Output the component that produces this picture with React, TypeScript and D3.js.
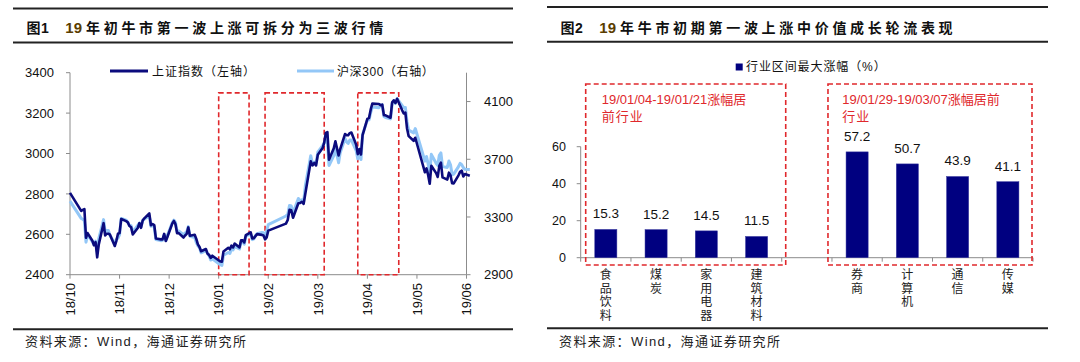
import React from 'react';
import * as d3 from 'd3';

// ---- chart 1 data: 上证指数 / 沪深300 daily closes ----
const tradeDates = [
  '2018-10-01', '2018-10-08', '2018-10-09', '2018-10-10', '2018-10-11', '2018-10-12', '2018-10-15', '2018-10-16', '2018-10-17', '2018-10-18', '2018-10-19', '2018-10-22', '2018-10-23', '2018-10-24', '2018-10-25', '2018-10-26', '2018-10-29', '2018-10-30', '2018-10-31',
  '2018-11-01', '2018-11-02', '2018-11-05', '2018-11-06', '2018-11-07', '2018-11-08', '2018-11-09', '2018-11-12', '2018-11-13', '2018-11-14', '2018-11-15', '2018-11-16', '2018-11-19', '2018-11-20', '2018-11-21', '2018-11-22', '2018-11-23', '2018-11-26', '2018-11-27', '2018-11-28', '2018-11-29', '2018-11-30',
  '2018-12-03', '2018-12-04', '2018-12-05', '2018-12-06', '2018-12-07', '2018-12-10', '2018-12-11', '2018-12-12', '2018-12-13', '2018-12-14', '2018-12-17', '2018-12-18', '2018-12-19', '2018-12-20', '2018-12-21', '2018-12-24', '2018-12-25', '2018-12-26', '2018-12-27', '2018-12-28',
  '2019-01-02', '2019-01-03', '2019-01-04', '2019-01-07', '2019-01-08', '2019-01-09', '2019-01-10', '2019-01-11', '2019-01-14', '2019-01-15', '2019-01-16', '2019-01-17', '2019-01-18', '2019-01-21', '2019-01-22', '2019-01-23', '2019-01-24', '2019-01-25', '2019-01-28', '2019-01-29', '2019-01-30', '2019-01-31',
  '2019-02-01', '2019-02-11', '2019-02-12', '2019-02-13', '2019-02-14', '2019-02-15', '2019-02-18', '2019-02-19', '2019-02-20', '2019-02-21', '2019-02-22', '2019-02-25', '2019-02-26', '2019-02-27', '2019-02-28',
  '2019-03-01', '2019-03-04', '2019-03-05', '2019-03-06', '2019-03-07', '2019-03-08', '2019-03-11', '2019-03-12', '2019-03-13', '2019-03-14', '2019-03-15', '2019-03-18', '2019-03-19', '2019-03-20', '2019-03-21', '2019-03-22', '2019-03-25', '2019-03-26', '2019-03-27', '2019-03-28', '2019-03-29',
  '2019-04-01', '2019-04-02', '2019-04-03', '2019-04-04', '2019-04-08', '2019-04-09', '2019-04-10', '2019-04-11', '2019-04-12', '2019-04-15', '2019-04-16', '2019-04-17', '2019-04-18', '2019-04-19', '2019-04-22', '2019-04-23', '2019-04-24', '2019-04-25', '2019-04-26', '2019-04-29', '2019-04-30',
  '2019-05-06', '2019-05-07', '2019-05-08', '2019-05-09', '2019-05-10', '2019-05-13', '2019-05-14', '2019-05-15', '2019-05-16', '2019-05-17', '2019-05-20', '2019-05-21', '2019-05-22', '2019-05-23', '2019-05-24', '2019-05-27', '2019-05-28', '2019-05-29', '2019-05-30', '2019-05-31',
  '2019-06-03',
];

const shIndex = [
  2805, 2716, 2721, 2725, 2583, 2606, 2568, 2546, 2561, 2486, 2550, 2655, 2594, 2603, 2603, 2598, 2542, 2568, 2603,
  2606, 2676, 2665, 2659, 2641, 2635, 2599, 2631, 2655, 2632, 2668, 2679, 2703, 2645, 2651, 2646, 2579, 2575, 2575, 2602, 2567, 2588,
  2654, 2666, 2649, 2605, 2606, 2584, 2594, 2602, 2634, 2593, 2598, 2577, 2550, 2537, 2516, 2527, 2504, 2498, 2483, 2494,
  2465, 2464, 2515, 2533, 2526, 2544, 2535, 2554, 2535, 2570, 2570, 2560, 2596, 2610, 2579, 2581, 2591, 2601, 2597, 2594, 2575, 2585,
  2618, 2653, 2671, 2721, 2719, 2682, 2754, 2755, 2761, 2751, 2804, 2961, 2941, 2953, 2941,
  2994, 3027, 3054, 3102, 3106, 2969, 3026, 3060, 3026, 2990, 3022, 3096, 3091, 3090, 3101, 3104, 3043, 2997, 3022, 2995, 3091,
  3171, 3176, 3217, 3247, 3245, 3239, 3242, 3190, 3189, 3177, 3253, 3263, 3250, 3271, 3215, 3198, 3202, 3124, 3086, 3063, 3078,
  2907, 2926, 2894, 2850, 2939, 2903, 2884, 2939, 2955, 2882, 2871, 2905, 2892, 2853, 2852, 2892, 2909, 2915, 2886, 2898,
  2890,
];

const hs300 = [
  3410, 3290, 3284, 3274, 3125, 3177, 3129, 3108, 3133, 3060, 3150, 3282, 3196, 3207, 3206, 3173, 3114, 3143, 3153,
  3178, 3290, 3278, 3264, 3240, 3239, 3195, 3242, 3258, 3232, 3276, 3286, 3306, 3236, 3243, 3230, 3144, 3136, 3138, 3175, 3136, 3173,
  3261, 3278, 3261, 3196, 3203, 3178, 3189, 3196, 3233, 3166, 3158, 3122, 3101, 3087, 3051, 3067, 3047, 3031, 3002, 3011,
  2969, 2964, 3035, 3054, 3047, 3078, 3072, 3094, 3078, 3127, 3128, 3111, 3168, 3183, 3143, 3148, 3172, 3184, 3192, 3191, 3168, 3201,
  3247, 3307, 3317, 3380, 3376, 3328, 3428, 3412, 3419, 3407, 3520, 3725, 3665, 3680, 3669,
  3749, 3795, 3814, 3834, 3826, 3657, 3725, 3769, 3728, 3676, 3745, 3844, 3820, 3810, 3833, 3833, 3759, 3703, 3738, 3698, 3872,
  3973, 3973, 4023, 4062, 4057, 4076, 4077, 3996, 3989, 3980, 4085, 4105, 4086, 4120, 4073, 4058, 4059, 3960, 3902, 3883, 3913,
  3687, 3719, 3667, 3600, 3734, 3672, 3657, 3728, 3744, 3649, 3643, 3688, 3662, 3592, 3597, 3649, 3672, 3663, 3642, 3630,
  3629,
];

const monthTicks = ['18/10', '18/11', '18/12', '19/01', '19/02', '19/03', '19/04', '19/05', '19/06'];
const leftTicks = [2400, 2600, 2800, 3000, 3200, 3400];
const rightTicks = [2900, 3300, 3700, 4100];
// three sub-waves highlighted with dashed boxes
const waveFrom = ['2019-01-01', '2019-01-30', '2019-03-26'];
const waveTo = ['2019-01-20', '2019-03-05', '2019-04-20'];

// ---- chart 2 data: 行业区间最大涨幅 ----
const industries = ['食品饮料', '煤炭', '家用电器', '建筑材料', '', '券商', '计算机', '通信', '传媒'];
const maxGain = [15.3, 15.2, 14.5, 11.5, null, 57.2, 50.7, 43.9, 41.1];
const barTicks = [0, 20, 40, 60];

const FONT = "'Liberation Sans', Arial, 'Noto Sans CJK SC', sans-serif";
const DARK = '#0b0b7d';
const LIGHT = '#93c7f7';
const RED = '#e0282c';
const AXIS = '#8c8c8c';

// month index since 2018-10, with fraction of month by day
function monthPos(s: string) {
  const [y, m, d] = s.split('-').map(Number);
  const dim = new Date(y, m, 0).getDate();
  return (y - 2018) * 12 + (m - 10) + (d - 1) / dim;
}

function LineChart() {
  const x = d3.scaleLinear().domain([0, 8]).range([70, 466.5]);
  const yL = d3.scaleLinear().domain([2400, 3400]).range([274.7, 72.7]);
  const yR = d3.scaleLinear().domain([2900, 4300]).range([274.7, 72.7]);

  const lineL = d3.line<number>().x((_, i) => x(monthPos(tradeDates[i]))).y(d => yL(d));
  const lineR = d3.line<number>().x((_, i) => x(monthPos(tradeDates[i]))).y(d => yR(d));

  return (
    <g>
      {/* axes */}
      <line x1={x(0)} x2={x(0)} y1={yL(3400)} y2={yL(2400)} stroke={AXIS} />
      <line x1={x(8)} x2={x(8)} y1={yL(3400)} y2={yL(2400)} stroke={AXIS} />
      <line x1={x(0)} x2={x(8)} y1={yL(2400)} y2={yL(2400)} stroke={AXIS} />
      {leftTicks.map(t => (
        <g key={'l' + t}>
          <line x1={x(0) - 4} x2={x(0)} y1={yL(t)} y2={yL(t)} stroke={AXIS} />
          <text x={54} y={yL(t)} dy="0.36em" textAnchor="end" fontSize={13} fill="#111">{t}</text>
        </g>
      ))}
      {rightTicks.map(t => (
        <g key={'r' + t}>
          <line x1={x(8)} x2={x(8) + 4} y1={yR(t)} y2={yR(t)} stroke={AXIS} />
          <text x={484} y={yR(t)} dy="0.36em" fontSize={13} fill="#111">{t}</text>
        </g>
      ))}
      {monthTicks.map((m, i) => (
        <g key={m}>
          <line x1={x(i)} x2={x(i)} y1={yL(2400)} y2={yL(2400) + 4} stroke={AXIS} />
          <text transform={`translate(${x(i)},283) rotate(-90)`} dy="0.36em" textAnchor="end" fontSize={13} fill="#111">{m}</text>
        </g>
      ))}

      {/* dashed wave boxes */}
      {waveFrom.map((f, i) => (
        <rect key={f} x={x(monthPos(f))} y={yL(3300)} width={x(monthPos(waveTo[i])) - x(monthPos(f))} height={yL(2400) - yL(3300)}
          fill="none" stroke={RED} strokeWidth={1.6} strokeDasharray="5,3" />
      ))}

      {/* series */}
      <path d={lineR(hs300) || ''} fill="none" stroke={LIGHT} strokeWidth={3} strokeLinejoin="round" />
      <path d={lineL(shIndex) || ''} fill="none" stroke={DARK} strokeWidth={2.6} strokeLinejoin="round" />

      {/* legend */}
      <line x1={110} x2={148} y1={71} y2={71} stroke={DARK} strokeWidth={3} />
      <text x={152} y={75.5} fontSize={12} letterSpacing={1} fill="#111">上证指数（左轴）</text>
      <line x1={297} x2={334} y1={71} y2={71} stroke={LIGHT} strokeWidth={3} />
      <text x={337} y={75.5} fontSize={12} letterSpacing={0.6} fill="#111">沪深300（右轴）</text>
    </g>
  );
}

function BarChart() {
  const x = d3.scaleBand<number>().domain(d3.range(industries.length)).range([580.7, 1033]).paddingInner(0.56).paddingOuter(0.28);
  const y = d3.scaleLinear().domain([0, 60]).range([257.7, 146.7]);
  const step = x.step();
  const x0 = x.range()[0];

  return (
    <g>
      <line x1={x0} x2={x0} y1={y(60)} y2={y(0)} stroke={AXIS} />
      <line x1={x0} x2={x.range()[1]} y1={y(0)} y2={y(0)} stroke={AXIS} />
      {barTicks.map(t => (
        <g key={t}>
          <line x1={x0 - 4} x2={x0} y1={y(t)} y2={y(t)} stroke={AXIS} />
          <text x={566} y={y(t)} dy="0.36em" textAnchor="end" fontSize={12.5} fill="#111">{t}</text>
        </g>
      ))}
      {d3.range(industries.length + 1).map(i => (
        <line key={'t' + i} x1={x0 + i * step} x2={x0 + i * step} y1={y(0)} y2={y(0) + 4} stroke={AXIS} />
      ))}
      {maxGain.map((v, i) => v == null ? null : (
        <g key={'b' + i}>
          <rect x={x(i)} y={y(v)} width={x.bandwidth()} height={y(0) - y(v)} fill="#000080" stroke="#3a3aa0" strokeWidth={0.5} />
          <text x={(x(i) || 0) + x.bandwidth() / 2} y={y(v) - 11} textAnchor="middle" fontSize={13.5} fill="#111">{v.toFixed(1)}</text>
        </g>
      ))}
      {industries.map((name, i) => (
        <text key={'c' + i} x={(x(i) || 0) + x.bandwidth() / 2} fontSize={12} textAnchor="middle" fill="#222">
          {name.split('').map((ch, k) => (
            <tspan key={k} x={(x(i) || 0) + x.bandwidth() / 2} y={279 + k * 13.7}>{ch}</tspan>
          ))}
        </text>
      ))}

      {/* highlighted groups */}
      <rect x={x0 + 5} y={84} width={4 * step - 1} height={181} fill="none" stroke={RED} strokeWidth={1.6} strokeDasharray="5,3" />
      <text x={601.7} y={104} fontSize={13} fill={RED}>19/01/04-19/01/21涨幅居</text>
      <text x={601.7} y={121} fontSize={13} fill={RED} letterSpacing={1}>前行业</text>
      <rect x={x0 + 5 * step - 4} y={84} width={4 * step + 3} height={181} fill="none" stroke={RED} strokeWidth={1.6} strokeDasharray="5,3" />
      <text x={842.3} y={104} fontSize={13} fill={RED}>19/01/29-19/03/07涨幅居前</text>
      <text x={842.3} y={121} fontSize={13} fill={RED} letterSpacing={1}>行业</text>

      {/* legend */}
      <rect x={735.7} y={63.5} width={7} height={7} fill="#000080" />
      <text x={746} y={71} fontSize={12} letterSpacing={0.9} fill="#111">行业区间最大涨幅（%）</text>
    </g>
  );
}

function Frame({ x1, x2, top, bottom, foot, num, title }: { x1: number; x2: number; top: number; bottom: number; foot: number; num: string; title: string }) {
  return (
    <g>
      <line x1={x1} x2={x2} y1={top} y2={top} stroke="#222" strokeWidth={2} />
      <line x1={x1} x2={x2} y1={bottom} y2={bottom} stroke="#222" strokeWidth={2} />
      <text x={x1 + 13.5} y={32.5} fontSize={14} fontWeight="bold" fill="#111">
        <tspan letterSpacing={0.5}>{num}</tspan>
        <tspan dx={16} fill="#5a3d00" fontSize={15}>19</tspan>
        <tspan dx={4} letterSpacing={3.7}>{title}</tspan>
      </text>
      <line x1={x1} x2={x2} y1={foot} y2={foot} stroke="#222" strokeWidth={2} />
      <text x={x1 + 12} y={346} fontSize={13} letterSpacing={1.4} fill="#222">资料来源：Wind，海通证券研究所</text>
    </g>
  );
}

export default function App() {
  return (
    <svg width={1080} height={362} style={{ position: 'absolute', left: 0, top: 0, background: '#fff' }} fontFamily={FONT}>
      <rect width={1080} height={362} fill="#fff" />
      <Frame x1={13} x2={513} top={8.5} bottom={42.5} foot={329.3} num="图1" title="年初牛市第一波上涨可拆分为三波行情" />
      <Frame x1={547} x2={1048} top={7} bottom={41.7} foot={328.3} num="图2" title="年牛市初期第一波上涨中价值成长轮流表现" />
      <LineChart />
      <BarChart />
    </svg>
  );
}
